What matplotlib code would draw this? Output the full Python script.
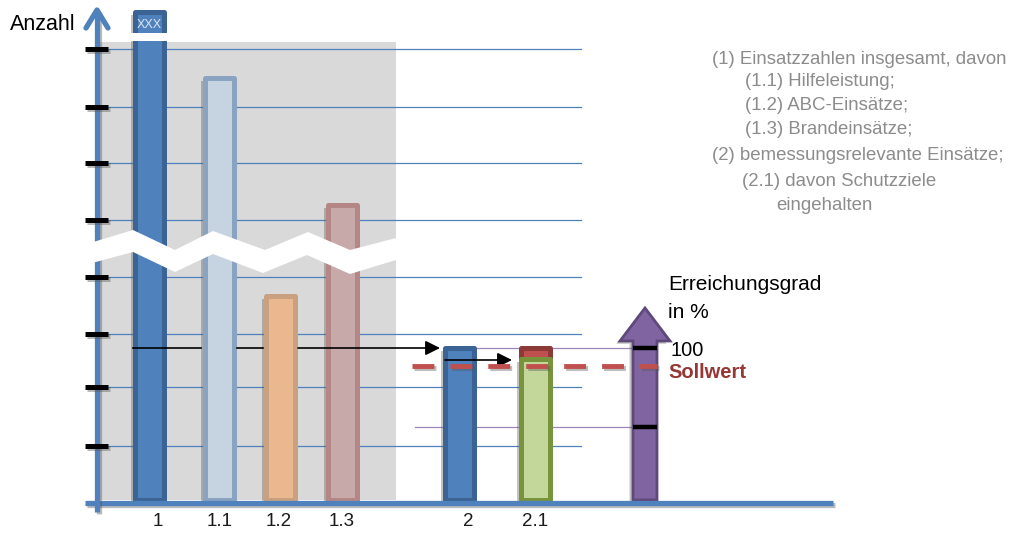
import matplotlib.pyplot as plt
import matplotlib.patches as mpatches
import matplotlib.patheffects as pe

plt.rcParams['font.family'] = ['Liberation Sans', 'DejaVu Sans']

# Daten (Einheit: Pixel über der Grundlinie)
kategorien = ['1', '1.1', '1.2', '1.3', '2', '2.1']
balken_x = [149, 219, 280, 342, 459, 535]
label_x = [158, 220, 279, 342, 468, 535]
hoehen = [488, 422, 204, 295, 152, 141]
hoehe_21_rot = 152
gitter_y = [54, 113, 166, 223, 280, 337, 393, 451]
hoehe_100 = 152
hoehe_sollwert = 134
hoehe_unten = 73

fuellung = ['#4F81BD', '#C6D3E1', '#E9B88F', '#C8A9AA', '#4F81BD', '#C4D79B']
rand = ['#3B6393', '#8AA3C0', '#C9A181', '#B48685', '#3B6393', '#77933C']

legende = [
    ('(1) Einsatzzahlen insgesamt, davon', 712),
    ('(1.1) Hilfeleistung;', 745),
    ('(1.2) ABC-Einsätze;', 745),
    ('(1.3) Brandeinsätze;', 745),
    ('(2) bemessungsrelevante Einsätze;', 712),
    ('(2.1) davon Schutzziele', 742),
    ('eingehalten', 776),
]

fig = plt.figure(figsize=(10.13, 5.33), dpi=100)
ax = fig.add_axes([0, 0, 1, 1])
ax.set_xlim(0, 1013)
ax.set_ylim(-33, 500)
ax.axis('off')

schatten = [pe.SimplePatchShadow(offset=(-2.5, -2), shadow_rgbFace='#555555', alpha=0.35), pe.Normal()]
linien_schatten = [pe.SimpleLineShadow(offset=(1.5, -1.5), shadow_color='#555555', alpha=0.4), pe.Normal()]

# grauer Hintergrund
ax.add_patch(mpatches.Rectangle((100, 0), 296, 458, facecolor='#D9D9D9', edgecolor='none', zorder=1))

# Gitterlinien
for gy in gitter_y:
    ax.plot([100, 581], [gy, gy], color='#4F81BD', lw=0.9, zorder=2)

# Balken
for i in range(len(kategorien)):
    b = ax.bar(balken_x[i], hoehen[i], width=29, bottom=0, color=fuellung[i],
               edgecolor=rand[i], linewidth=3.6, zorder=3)
    b[0].set_path_effects(schatten)
    b[0].set_joinstyle('round')

# roter Teil über Balken 2.1
rot = ax.bar(balken_x[5], hoehe_21_rot - hoehen[5], width=29, bottom=hoehen[5],
             color='#C0504D', edgecolor='#8C3A38', linewidth=3.6, zorder=2.9)
rot[0].set_joinstyle('round')

# Unterbrechung bei Balken 1 oben
ax.add_patch(mpatches.Rectangle((107, 459), 236, 8, facecolor='white', edgecolor='none', zorder=4))
ax.text(balken_x[0], 475, 'XXX', color='#DCE6F2', fontsize=9, ha='center', va='center', zorder=5)

# Achsen
ax.plot([85, 833], [-3, -3], color='#4F81BD', lw=3.8, solid_capstyle='butt', zorder=6,
        path_effects=linien_schatten)
ax.plot([97, 97], [-12, 490], color='#4F81BD', lw=3.8, solid_capstyle='butt', zorder=6,
        path_effects=linien_schatten)
ax.plot([86, 97, 108], [472, 490, 472], color='#4F81BD', lw=3.8, solid_capstyle='round',
        solid_joinstyle='round', zorder=6)
for gy in gitter_y:
    ax.plot([85, 108], [gy, gy], color='black', lw=3.6, solid_capstyle='butt', zorder=7,
            path_effects=linien_schatten)

# Zickzack-Bruch (über der Achse)
oben = [(90, 257), (133, 270), (175, 250), (213, 269), (265, 250), (308, 268), (350, 250), (396, 262)]
unten = [(92, 237), (133, 248), (175, 228), (213, 246), (263, 227), (307, 245), (350, 226), (396, 240)]
ax.add_patch(mpatches.Polygon(oben + unten[::-1], closed=True, facecolor='white', edgecolor='none', zorder=7.5))

# Pfeile
ax.plot([133, 201], [hoehe_100, hoehe_100], color='black', lw=1.2, zorder=5)
ax.plot([237, 263], [hoehe_100, hoehe_100], color='black', lw=1.2, zorder=5)
ax.annotate('', xy=(440, hoehe_100), xytext=(298, hoehe_100), zorder=5,
            arrowprops=dict(arrowstyle='-|>', color='black', lw=1.2, mutation_scale=22, shrinkA=0, shrinkB=0))
ax.annotate('', xy=(512, 140), xytext=(445, 140), zorder=5,
            arrowprops=dict(arrowstyle='-|>', color='black', lw=1.2, mutation_scale=22, shrinkA=0, shrinkB=0))

# violette Linien
ax.plot([476, 640], [hoehe_100, hoehe_100], color='#9C86BC', lw=0.9, zorder=2)
ax.plot([415, 640], [hoehe_unten, hoehe_unten], color='#9C86BC', lw=0.9, zorder=2)

# Erreichungsgrad-Pfeil
pfeil = mpatches.FancyArrow(645, 0, 0, 192, width=24, head_width=50, head_length=33,
                            length_includes_head=True, facecolor='#8064A2', edgecolor='#5F497A',
                            linewidth=2, zorder=3)
pfeil.set_path_effects(schatten)
ax.add_patch(pfeil)
for gy in [hoehe_100, hoehe_unten]:
    ax.plot([633, 657], [gy, gy], color='black', lw=3.2, solid_capstyle='butt', zorder=7)

# Sollwert
ax.plot([412, 657], [hoehe_sollwert, hoehe_sollwert], color='#C0504D', lw=3.5,
        dashes=(4.5, 3.3), dash_capstyle='butt', zorder=8, path_effects=linien_schatten)

# Texte
ax.text(10, 475, 'Anzahl', fontsize=15.5, ha='left', va='center', color='black')
ax.text(668, 215, 'Erreichungsgrad', fontsize=15, ha='left', va='center', color='black')
ax.text(668, 187, 'in %', fontsize=15, ha='left', va='center', color='black')
ax.text(670, 150, '100', fontsize=14.4, ha='left', va='center', color='black')
ax.text(668, 127, 'Sollwert', fontsize=14.5, ha='left', va='center', color='#953735', fontweight='bold')

for i, k in enumerate(kategorien):
    ax.text(label_x[i], -22, k, fontsize=13.5, ha='center', va='center', color='#1A1A1A')

leg_y = [440, 418, 394, 370, 344, 319, 295]
for (txt, lx), ly in zip(legende, leg_y):
    ax.text(lx, ly, txt, fontsize=13.4, ha='left', va='center', color='#8C8C8C')

fig.savefig('out.png', dpi=100)
